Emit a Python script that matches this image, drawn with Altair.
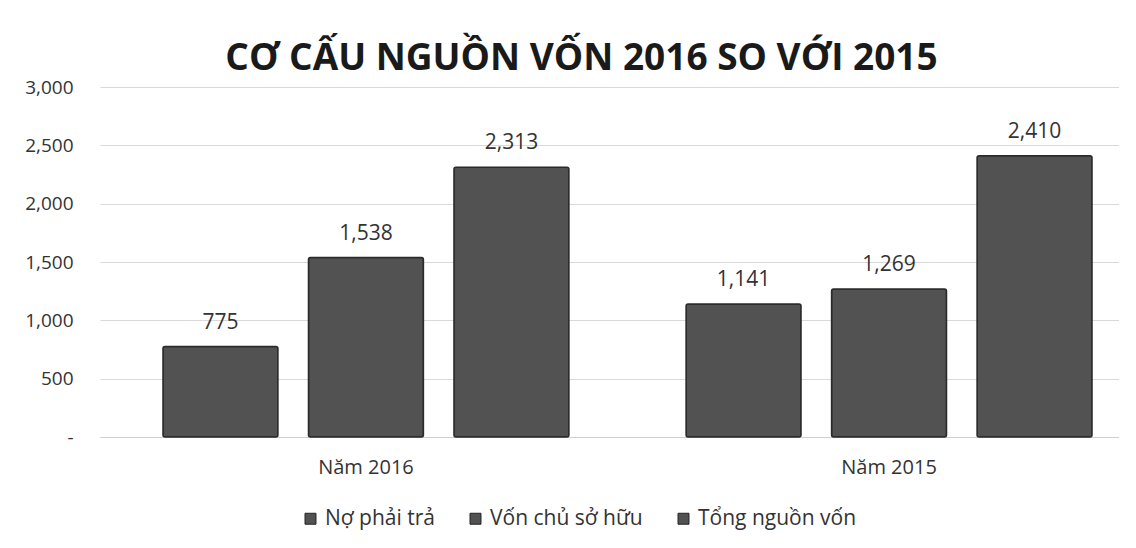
import altair as alt
import pandas as pd

groups = ["Năm 2016", "Năm 2015"]
series = ["Nợ phải trả", "Vốn chủ sở hữu", "Tổng nguồn vốn"]
values_2016 = [775, 1538, 2313]
values_2015 = [1141, 1269, 2410]
y_ticks = [0, 500, 1000, 1500, 2000, 2500, 3000]

rows = []
for g, vals in zip(groups, [values_2016, values_2015]):
    for s, v in zip(series, vals):
        rows.append({"group": g, "series": s, "value": v})
df = pd.DataFrame(rows)

FONT = "Open Sans"
BAR = "#525252"

x_enc = alt.X("group:N", sort=groups, title=None,
              scale=alt.Scale(paddingInner=0.224, paddingOuter=0.086, align=0.7),
              axis=alt.Axis(labelAngle=0, ticks=False, labelFontSize=20, labelColor="#333333",
                            labelFont=FONT, labelPadding=20, domainColor="#d0d0d0"))
xo_enc = alt.XOffset("series:N", sort=series, scale=alt.Scale(paddingInner=0.21, paddingOuter=0))
y_enc = alt.Y("value:Q", title=None,
              scale=alt.Scale(domain=[0, 3000]),
              axis=alt.Axis(values=y_ticks, labelFontSize=19, labelColor="#333333", labelFont=FONT,
                            labelExpr="datum.value == 0 ? '-' : format(datum.value, ',')",
                            domain=False, ticks=False, labelPadding=27,
                            gridColor="#d9d9d9", gridWidth=1))

bars = alt.Chart(df).mark_bar(stroke="#2b2b2b", strokeWidth=1.5, cornerRadius=2).encode(
    x=x_enc,
    xOffset=xo_enc,
    y=y_enc,
    color=alt.Color("series:N", sort=series, title=None,
                    scale=alt.Scale(domain=series, range=[BAR, BAR, BAR]),
                    legend=alt.Legend(orient="none", direction="horizontal",
                                      legendX=200, legendY=71 + 350,
                                      symbolType="square", symbolSize=120,
                                      symbolStrokeColor="#222222", symbolStrokeWidth=1,
                                      labelFontSize=21, labelFont=FONT, labelColor="#333333",
                                      columnPadding=30)),
)

labels = alt.Chart(df).mark_text(dy=-24, fontSize=21, font=FONT, color="#333333").encode(
    x=alt.X("group:N", sort=groups),
    xOffset=alt.XOffset("series:N", sort=series),
    y=alt.Y("value:Q"),
    text=alt.Text("value:Q", format=","),
)

chart = (bars + labels).properties(
    width=1019, height=350,
    background="white",
    padding={"top": 32, "left": 16, "right": 0, "bottom": 10},
    title=alt.TitleParams("CƠ CẤU NGUỒN VỐN 2016 SO VỚI 2015", fontSize=37, fontWeight="bold",
                          font=FONT, color="#1a1a1a", anchor="middle", offset=0, dx=-28),
).configure_view(strokeWidth=0)

chart.save("out.html", embed_options={"renderer": "svg", "actions": False})
